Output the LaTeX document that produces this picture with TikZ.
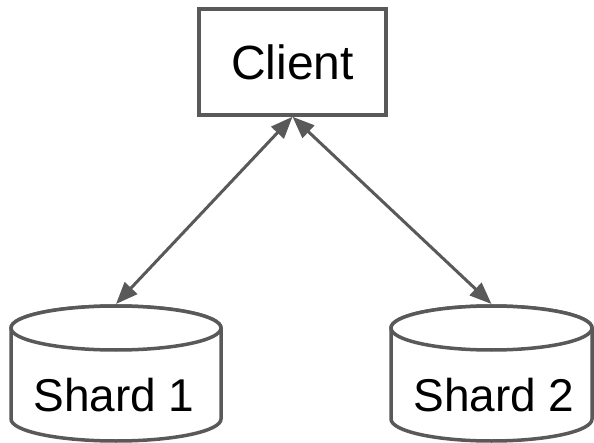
\documentclass[tikz,border=0pt]{standalone}
\usepackage{fontspec}
\setmainfont{Liberation Sans}
\usetikzlibrary{arrows.meta}

\definecolor{edgegray}{RGB}{89,89,89}

\tikzset{
  boxstyle/.style={draw=edgegray, line width=3.5pt, fill=white, rectangle,
    minimum width=187pt, minimum height=106pt, inner sep=0pt,
    font=\fontsize{48pt}{56pt}\selectfont},
  cylstyle/.style={draw=edgegray, line width=3.5pt, fill=white},
  labelstyle/.style={anchor=base, inner sep=0pt, font=\fontsize{46pt}{54pt}\selectfont},
  link/.style={draw=edgegray, line width=3pt,
    {Triangle[length=22pt,width=17pt]}-{Triangle[length=22pt,width=17pt]}}
}

\begin{document}
\begin{tikzpicture}[x=1pt, y=1pt]
  \useasboundingbox (0,0) rectangle (594,442);
  \fill[white] (0,0) rectangle (594,442);

  % client box
  \node[boxstyle] (client) at (292.5,380) {Client};

  % shard 1 cylinder
  \path[cylstyle] (11,114) -- (11,23)
    arc[start angle=180, end angle=360, x radius=105, y radius=22]
    -- (221,114) arc[start angle=0, end angle=180, x radius=105, y radius=22] -- cycle;
  \draw[cylstyle] (116,114) ellipse [x radius=105, y radius=22];
  \node[labelstyle] (shard1) at (114,31) {Shard 1};
  \coordinate (shard1top) at (116,138);

  % shard 2 cylinder
  \path[cylstyle] (391,114) -- (391,23)
    arc[start angle=180, end angle=360, x radius=100.5, y radius=22]
    -- (592,114) arc[start angle=0, end angle=180, x radius=100.5, y radius=22] -- cycle;
  \draw[cylstyle] (491.5,114) ellipse [x radius=100.5, y radius=22];
  \node[labelstyle] (shard2) at (494,31) {Shard 2};
  \coordinate (shard2top) at (491.5,138);

  % connectors
  \draw[link] (client.south) -- (shard1top);
  \draw[link] (client.south) -- (shard2top);
\end{tikzpicture}
\end{document}
